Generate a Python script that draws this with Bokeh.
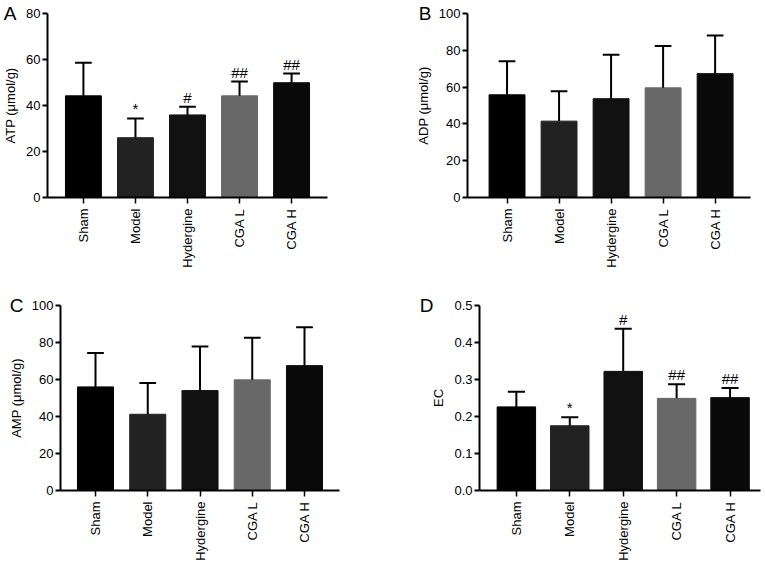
import numpy as np
from bokeh.plotting import figure
from bokeh.layouts import column, row
from bokeh.models import (FixedTicker, LinearAxis, Range1d, ColumnDataSource,
                          CustomJSTickFormatter)
from bokeh.core.properties import value
from bokeh.embed import file_html
from bokeh.resources import INLINE

categories = ["Sham", "Model", "Hydergine", "CGA L", "CGA H"]
bar_colors = ["#000000", "#222222", "#111111", "#686868", "#0a0a0a"]

atp_mean = [44.2, 26.0, 35.9, 44.2, 49.9]
atp_err = [58.6, 34.4, 39.5, 50.4, 53.9]
atp_sig = ["", "*", "#", "##", "##"]

adp_mean = [55.8, 41.5, 53.7, 59.6, 67.3]
adp_err = [74.1, 57.8, 77.6, 82.4, 88.0]
adp_sig = ["", "", "", "", ""]

amp_mean = [56.0, 41.2, 54.0, 59.8, 67.5]
amp_err = [74.3, 58.1, 77.9, 82.6, 88.3]
amp_sig = ["", "", "", "", ""]

ec_mean = [0.226, 0.175, 0.322, 0.249, 0.251]
ec_err = [0.267, 0.198, 0.437, 0.287, 0.277]
ec_sig = ["", "*", "#", "##", "##"]

FONT = "Liberation Sans"


def panel(letter, ylabel, means, errs, sigs, yticks, ymax, xr, borders, letter_standoff,
          bar_w=0.69, decimals=False):
    left, right, top, bottom = borders
    p = figure(width=382, height=283, output_backend="svg", toolbar_location=None,
               x_range=Range1d(*xr), y_range=Range1d(0, ymax),
               min_border_left=left, min_border_right=right,
               min_border_top=top, min_border_bottom=bottom)
    p.outline_line_color = None
    p.background_fill_color = "white"
    p.border_fill_color = "white"
    p.grid.visible = False

    x = list(range(len(categories)))
    src = ColumnDataSource(dict(x=x, top=means, err=errs, sig=sigs, color=bar_colors,
                                cl=[v - 0.16 for v in x], cr=[v + 0.16 for v in x]))
    p.vbar(x="x", top="top", width=bar_w, bottom=0, source=src, fill_color="color",
           line_color="color", line_width=1)
    p.segment(x0="x", y0="top", x1="x", y1="err", source=src, line_color="black", line_width=2)
    p.segment(x0="cl", y0="err", x1="cr", y1="err", source=src, line_color="black", line_width=2)
    p.text(x="x", y="err", text="sig", source=src, text_align="center", text_baseline="bottom",
           y_offset=-1, text_font=value(FONT), text_font_size="15px", text_color="black")

    ya = p.yaxis[0]
    ya.ticker = FixedTicker(ticks=yticks)
    if decimals:
        ya.formatter = CustomJSTickFormatter(code="return tick.toFixed(1);")
    ya.axis_label = ylabel
    ya.axis_label_text_font = FONT
    ya.axis_label_text_color = "black"
    ya.axis_label_text_font_style = "normal"
    ya.axis_label_text_font_size = "13px"
    ya.axis_label_standoff = 5
    ya.major_label_text_font = FONT
    ya.major_label_text_color = "black"
    ya.major_label_text_font_size = "13px"
    ya.major_label_standoff = 2
    ya.axis_line_width = 2
    ya.major_tick_line_width = 2
    ya.major_tick_out = 5
    ya.major_tick_in = 0
    ya.minor_tick_line_color = None

    # panel letter, drawn as the only label of an outer, invisible axis
    la = LinearAxis(ticker=FixedTicker(ticks=[ymax]),
                    major_label_overrides={ymax: letter},
                    major_label_text_font=FONT, major_label_text_font_size="19px",
                    major_label_text_color="black", major_label_standoff=letter_standoff,
                    axis_line_color=None, major_tick_line_color=None,
                    minor_tick_line_color=None, major_tick_out=0, major_tick_in=0)
    p.add_layout(la, "left")

    xa = p.xaxis[0]
    xa.ticker = FixedTicker(ticks=x)
    xa.major_label_overrides = {i: c for i, c in enumerate(categories)}
    xa.major_label_orientation = np.pi / 2
    xa.major_label_text_font = FONT
    xa.major_label_text_color = "black"
    xa.major_label_text_font_size = "13px"
    xa.major_label_standoff = 5
    xa.axis_line_width = 2
    xa.major_tick_line_width = 1.5
    xa.major_tick_out = 6
    xa.major_tick_in = 0
    xa.minor_tick_line_color = None
    return p


pa = panel("A", "ATP (μmol/g)", atp_mean, atp_err, atp_sig, [0, 20, 40, 60, 80], 80,
           (-0.69, 4.69), (47, 55, 13, 85), -16)
pb = panel("B", "ADP (μmol/g)", adp_mean, adp_err, adp_sig, [0, 20, 40, 60, 80, 100], 100,
           (-0.76, 4.68), (85, 14, 11, 86), -19)
pc = panel("C", "AMP (μmol/g)", amp_mean, amp_err, amp_sig, [0, 20, 40, 60, 80, 100], 100,
           (-0.67, 4.67), (60, 43, 22, 76), -18)
pd = panel("D", "EC", ec_mean, ec_err, ec_sig, [0.0, 0.1, 0.2, 0.3, 0.4, 0.5], 0.5,
           (-0.69, 4.57), (97, 4, 21, 75), -5, bar_w=0.72, decimals=True)

layout = column(row(pa, pb), row(pc, pd))
open("out.html", "w").write(file_html(layout, INLINE))
